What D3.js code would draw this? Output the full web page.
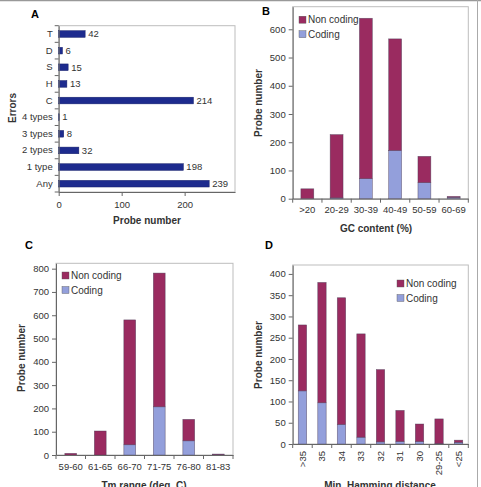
<!DOCTYPE html>
<html>
<head>
<meta charset="utf-8">
<script src="https://cdn.jsdelivr.net/npm/d3@7"></script>
<style>
  body { margin: 0; background: #fff; }
  text { font-family: "Liberation Sans", Arial, sans-serif; }
</style>
</head>
<body>
<div id="chart"></div>
<script>
// ---------------- Data ----------------
var errCats = ["Any", "1 type", "2 types", "3 types", "4 types", "C", "H", "S", "D", "T"];
var errVals = [239, 198, 32, 8, 1, 214, 13, 15, 6, 42];

var gcCats = [">20", "20-29", "30-39", "40-49", "50-59", "60-69"];
var gcCoding = [0, 3, 71, 171, 57, 5];
var gcNonCoding = [35, 224, 568, 395, 93, 3];

var tmCats = ["59-60", "61-65", "66-70", "71-75", "76-80", "81-83"];
var tmCoding = [0, 0, 44, 207, 61, 2];
var tmNonCoding = [7, 103, 536, 574, 92, 2];

var hamCats = [">35", "35", "34", "33", "32", "31", "30", "29-25", "<25"];
var hamCoding = [125, 97, 46, 16, 5, 6, 6, 1, 4];
var hamNonCoding = [155, 283, 298, 243, 170, 73, 41, 58, 5];

var seriesNames = ["Non coding", "Coding"];

// ---------------- Set-up ----------------
var W = 481, H = 487;
var navy = "#1d2b8e", maroon = "#9a2b60", lilac = "#939fdb";
var tickCol = "#333", frameCol = "#bdbdbd";

var svg = d3.select("#chart").append("svg")
    .attr("width", W).attr("height", H);

// outer frame lines
svg.append("line").attr("x1", 0).attr("x2", W).attr("y1", 0.5).attr("y2", 0.5)
   .attr("stroke", "#999").attr("stroke-width", 1.5);
svg.append("line").attr("x1", 477.5).attr("x2", 477.5).attr("y1", 0).attr("y2", H)
   .attr("stroke", "#aaa").attr("stroke-width", 1);

function frame(g, x0, x1, y0, y1) {
    g.append("rect").attr("x", x0).attr("y", y0)
     .attr("width", x1 - x0).attr("height", y1 - y0)
     .attr("fill", "none").attr("stroke", frameCol).attr("stroke-width", 1);
}

function styleAxis(ax) {
    ax.select(".domain").attr("stroke", "#666");
    ax.selectAll(".tick line").attr("stroke", "#666");
    ax.selectAll("text").attr("fill", tickCol).style("font-size", "9.5px");
}

// ---------------- Panel A ----------------
(function () {
    var x0 = 58.7, x1 = 235, y0 = 25.7, y1 = 192;
    var g = svg.append("g");
    frame(g, x0, x1, y0, y1);

    var x = d3.scaleLinear().domain([0, 280]).range([x0, x1]);
    var y = d3.scaleBand().domain(errCats.slice().reverse()).range([y0, y1]).paddingInner(0.6).paddingOuter(0.3);
    var yb = d3.scaleBand().domain(errCats.slice().reverse()).range([y0, y1]);

    g.selectAll(".barA").data(errCats).enter().append("rect")
      .attr("x", x(0)).attr("y", function (d) { return y(d); })
      .attr("width", function (d, i) { return x(errVals[i]) - x(0); })
      .attr("height", y.bandwidth())
      .attr("fill", navy).attr("stroke", "#16206a").attr("stroke-width", 0.5);

    g.selectAll(".valA").data(errCats).enter().append("text")
      .attr("x", function (d, i) { return x(errVals[i]) + 3; })
      .attr("y", function (d) { return y(d) + y.bandwidth() / 2; })
      .attr("dy", "0.35em").attr("fill", tickCol).style("font-size", "9.5px")
      .text(function (d, i) { return errVals[i]; });

    var xa = g.append("g").attr("transform", "translate(0," + y1 + ")")
      .call(d3.axisBottom(x).tickValues([0, 100, 200]).tickSize(4).tickSizeOuter(0).tickPadding(5));
    styleAxis(xa);

    var ya = g.append("g").attr("transform", "translate(" + x0 + ",0)")
      .call(d3.axisLeft(yb).tickSize(0).tickPadding(6));
    styleAxis(ya);
    // category boundary ticks
    g.selectAll(".bt").data(d3.range(errCats.length + 1)).enter().append("line")
      .attr("x1", x0 - 4).attr("x2", x0)
      .attr("y1", function (i) { return y0 + i * yb.step(); })
      .attr("y2", function (i) { return y0 + i * yb.step(); })
      .attr("stroke", "#666");

    g.append("text").attr("x", 35).attr("y", 18).attr("text-anchor", "middle")
      .style("font-size", "11px").style("font-weight", "bold").text("A");
    g.append("text").attr("x", 147).attr("y", 224).attr("text-anchor", "middle")
      .style("font-size", "10px").style("font-weight", "bold").attr("fill", "#333").text("Probe number");
    g.append("text").attr("transform", "translate(16,108) rotate(-90)").attr("text-anchor", "middle")
      .style("font-size", "10px").style("font-weight", "bold").attr("fill", "#333").text("Errors");
})();

// ---------------- Stacked panels ----------------
function stackedPanel(o) {
    var g = svg.append("g");
    frame(g, o.x0, o.x1, o.y0, o.y1);

    var x = d3.scaleBand().domain(o.cats).range([o.x0, o.x1]).paddingInner(o.pad).paddingOuter(o.pad / 2);
    var xb = d3.scaleBand().domain(o.cats).range([o.x0, o.x1]);
    var y = d3.scaleLinear().domain([0, o.ymax]).range([o.y1, o.y0]);

    var rows = o.cats.map(function (c, i) { return { cat: c, coding: o.coding[i], noncoding: o.noncoding[i] }; });
    var stack = d3.stack().keys(["coding", "noncoding"])(rows);
    var cols = { coding: lilac, noncoding: maroon };

    stack.forEach(function (layer) {
        g.selectAll(".b-" + layer.key).data(layer).enter().append("rect")
          .attr("x", function (d) { return x(d.data.cat); })
          .attr("width", x.bandwidth())
          .attr("y", function (d) { return y(d[1]); })
          .attr("height", function (d) { return y(d[0]) - y(d[1]); })
          .attr("fill", cols[layer.key])
          .attr("stroke", "#4a3a55").attr("stroke-width", 0.6).attr("stroke-opacity", 0.7);
    });

    var ya = g.append("g").attr("transform", "translate(" + o.x0 + ",0)")
      .call(d3.axisLeft(y).tickValues(o.yticks).tickSize(4).tickSizeOuter(0).tickPadding(3));
    styleAxis(ya);

    var xa = g.append("g").attr("transform", "translate(0," + o.y1 + ")")
      .call(d3.axisBottom(xb).tickSize(0).tickPadding(o.rot ? 4 : 8));
    styleAxis(xa);
    if (o.rot) {
        xa.selectAll("text").attr("transform", "rotate(-90)")
          .attr("text-anchor", "end").attr("dy", "0.35em").attr("x", -7).attr("y", 0);
    }
    g.selectAll(".bt").data(d3.range(o.cats.length + 1)).enter().append("line")
      .attr("y1", o.y1).attr("y2", o.y1 + 4)
      .attr("x1", function (i) { return o.x0 + i * xb.step(); })
      .attr("x2", function (i) { return o.x0 + i * xb.step(); })
      .attr("stroke", "#666");

    // legend
    seriesNames.forEach(function (n, i) {
        g.append("rect").attr("x", o.lx).attr("y", o.ly + i * 14.5 - 3.5)
          .attr("width", 7).attr("height", 7)
          .attr("fill", i === 0 ? maroon : lilac).attr("stroke", "#555").attr("stroke-width", 0.4);
        g.append("text").attr("x", o.lx + 9).attr("y", o.ly + i * 14.5).attr("dy", "0.35em")
          .attr("fill", tickCol).style("font-size", "10px").text(n);
    });

    g.append("text").attr("x", o.lab[0]).attr("y", o.lab[1]).attr("text-anchor", "middle")
      .style("font-size", "11px").style("font-weight", "bold").text(o.letter);
    g.append("text").attr("x", o.xt[0]).attr("y", o.xt[1]).attr("text-anchor", "middle")
      .style("font-size", "10px").style("font-weight", "bold").attr("fill", "#333").text(o.xtitle);
    g.append("text").attr("transform", "translate(" + o.yt[0] + "," + o.yt[1] + ") rotate(-90)")
      .attr("text-anchor", "middle")
      .style("font-size", "10px").style("font-weight", "bold").attr("fill", "#333").text("Probe number");
}

stackedPanel({
    cats: gcCats, coding: gcCoding, noncoding: gcNonCoding,
    x0: 292.7, x1: 468.3, y0: 6.7, y1: 198.7, ymax: 680, yticks: [0, 100, 200, 300, 400, 500, 600],
    pad: 0.56, lx: 299, ly: 19.7, letter: "B", lab: [266, 15],
    xtitle: "GC content (%)", xt: [376, 232], yt: [262, 103]
});

stackedPanel({
    cats: tmCats, coding: tmCoding, noncoding: tmNonCoding,
    x0: 56, x1: 233, y0: 263.3, y1: 455, ymax: 823, yticks: [0, 100, 200, 300, 400, 500, 600, 700, 800],
    pad: 0.6, lx: 62, ly: 275.5, letter: "C", lab: [29, 249],
    xtitle: "Tm range (deg. C)", xt: [144, 489], yt: [25, 358]
});

stackedPanel({
    cats: hamCats, coding: hamCoding, noncoding: hamNonCoding,
    x0: 292.7, x1: 468.3, y0: 265, y1: 444, ymax: 421, yticks: [0, 50, 100, 150, 200, 250, 300, 350, 400],
    pad: 0.57, lx: 397, ly: 283.5, letter: "D", lab: [269, 249], rot: true,
    xtitle: "Min. Hamming distance", xt: [380, 489], yt: [262, 355]
});
</script>
</body>
</html>
